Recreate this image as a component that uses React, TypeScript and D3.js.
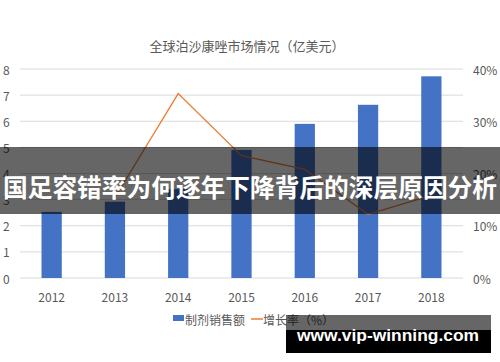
import React from "react";
import * as d3 from "d3";

const WIDTH = 500;
const HEIGHT = 362;
const MARGIN = { top: 69, right: 37, bottom: 84, left: 20 };

const years = ["2012", "2013", "2014", "2015", "2016", "2017", "2018"];
const sales = [2.53, 2.92, 3.4, 4.9, 5.9, 6.63, 7.72];
const growth: (number | null)[] = [null, 15.4, 35.3, 23.4, 20.8, 12.2, 15.8];
const leftTicks = [0, 1, 2, 3, 4, 5, 6, 7, 8];
const rightTicks = [0, 10, 20, 30, 40];

const TITLE = "全球泊沙康唑市场情况（亿美元）";
const LEGEND = ["制剂销售额", "增长率（%）"];
const BANNER = "国足容错率为何逐年下降背后的深层原因分析";
const WATERMARK = "www.vip-winning.com";

const BLUE = "#4472c4";
const ORANGE = "#ed7d31";
const TEXT = "#595959";
const FONT = "'Noto Sans CJK SC', 'Noto Sans', sans-serif";

export default function App() {
  const boundsWidth = WIDTH - MARGIN.left - MARGIN.right;
  const boundsHeight = HEIGHT - MARGIN.top - MARGIN.bottom;

  // bars centred in each category slot, like excel does
  const xScale = d3
    .scaleBand()
    .domain(years)
    .range([0, boundsWidth])
    .paddingInner(0.68)
    .paddingOuter(0.34);
  const yLeft = d3.scaleLinear().domain([0, 8]).range([boundsHeight, 0]);
  const yRight = d3.scaleLinear().domain([0, 40]).range([boundsHeight, 0]);

  const cx = (y: string) => (xScale(y) ?? 0) + xScale.bandwidth() / 2;

  const linePath = d3
    .line<number | null>()
    .defined((d) => d !== null)
    .x((_, i) => cx(years[i]))
    .y((d) => yRight(d as number))(growth);

  return (
    <svg
      width={WIDTH}
      height={HEIGHT}
      style={{ position: "fixed", top: 0, left: 0, background: "#fff" }}
      fontFamily={FONT}
    >
      <text x={247} y={45} textAnchor="middle" dominantBaseline="central" fontSize={13} fill={TEXT}>
        {TITLE}
      </text>

      <g transform={`translate(${MARGIN.left},${MARGIN.top})`}>
        {leftTicks.map((t) => (
          <g key={t}>
            <line x1={0} x2={boundsWidth} y1={yLeft(t)} y2={yLeft(t)} stroke="#d9d9d9" strokeWidth={1} />
            <text x={-17} y={yLeft(t)} dominantBaseline="central" fontSize={12} fill={TEXT}>
              {t}
            </text>
          </g>
        ))}
        {rightTicks.map((t) => (
          <text key={t} x={boundsWidth + 10} y={yRight(t)} dominantBaseline="central" fontSize={12} fill={TEXT}>
            {t + "%"}
          </text>
        ))}

        {sales.map((v, i) => (
          <rect
            key={i}
            x={xScale(years[i])}
            y={yLeft(v)}
            width={xScale.bandwidth()}
            height={boundsHeight - yLeft(v)}
            fill={BLUE}
          />
        ))}

        <path d={linePath ?? ""} fill="none" stroke={ORANGE} strokeWidth={1.3} />

        {years.map((y) => (
          <text key={y} x={cx(y)} y={boundsHeight + 18} textAnchor="middle" dominantBaseline="central" fontSize={12} fill={TEXT}>
            {y}
          </text>
        ))}
      </g>

      {/* legend */}
      <rect x={173} y={315} width={11} height={6} fill={BLUE} />
      <text x={185} y={319} dominantBaseline="central" fontSize={12} fill={TEXT}>
        {LEGEND[0]}
      </text>
      <line x1={251} x2={263} y1={319} y2={319} stroke={ORANGE} strokeWidth={1.5} />
      <text x={263} y={319} dominantBaseline="central" fontSize={12} fill={TEXT}>
        {LEGEND[1]}
      </text>

      {/* banner overlay */}
      <rect x={0} y={147} width={WIDTH} height={67} fill="rgba(0,0,0,0.6)" />
      <text
        x={250}
        y={186}
        textAnchor="middle"
        dominantBaseline="central"
        fontSize={25}
        fontWeight="bold"
        fill="#fff"
        textLength={494}
        lengthAdjust="spacingAndGlyphs"
      >
        {BANNER}
      </text>

      {/* watermark */}
      <rect x={286} y={315} width={205} height={15} fill="rgba(0,0,0,0.6)" />
      <rect x={286} y={330} width={205} height={23} fill="#000" />
      <text
        x={297}
        y={341}
        fontSize={17}
        fontWeight="bold"
        fill="#fff"
        fontFamily="'Liberation Sans', Arial, sans-serif"
        textLength={182}
        lengthAdjust="spacingAndGlyphs"
      >
        {WATERMARK}
      </text>
    </svg>
  );
}
